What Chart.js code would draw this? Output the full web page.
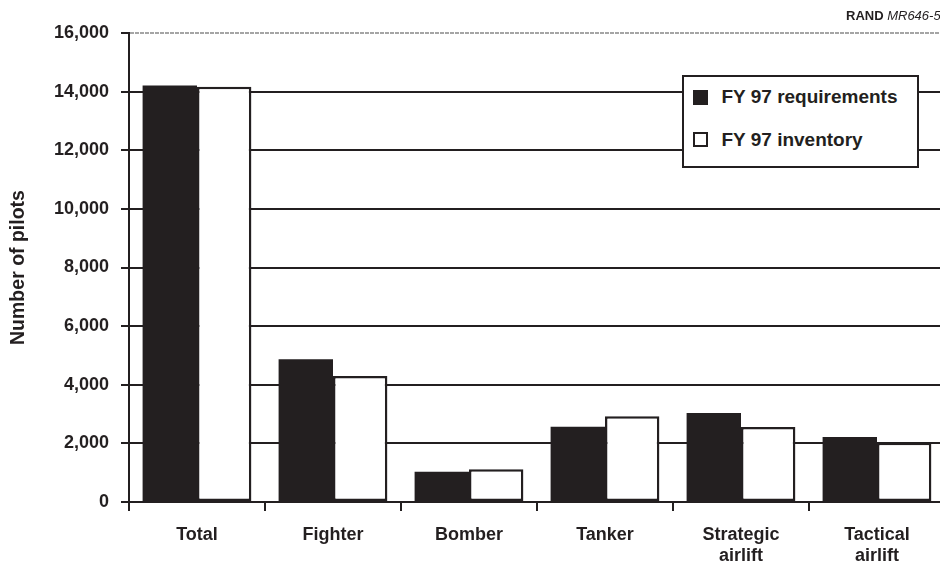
<!DOCTYPE html>
<html>
<head>
<meta charset="utf-8">
<script src="https://cdn.jsdelivr.net/npm/chart.js@4/dist/chart.umd.min.js"></script>
<style>
  html, body { margin: 0; padding: 0; background: #fff; }
  #wrap { position: relative; width: 940px; height: 564px; overflow: hidden; }
  #c { position: absolute; left: 0; top: 0; }
  #rand { position: absolute; left: 846px; top: 8px; font: bold 13px "Liberation Sans", Arial, sans-serif; color: #231f20; white-space: nowrap; }
  #rand i { font-weight: normal; }
  #legend { position: absolute; left: 682px; top: 75px; width: 233px; height: 89px; border: 2.5px solid #231f20; background: #fff;
            font: bold 19px "Liberation Sans", Arial, sans-serif; color: #231f20; }
  #legend .item { position: absolute; left: 8.5px; height: 22px; display: flex; align-items: center; white-space: nowrap; }
  #legend .sw { width: 15px; height: 15px; box-sizing: border-box; margin-right: 14px; }
</style>
</head>
<body>
<div id="wrap">
  <canvas id="c" width="950" height="564"></canvas>
  <div id="rand">RAND <i>MR646-5</i></div>
  <div id="legend"></div>
</div>
<script>
// Pilot requirements vs. inventory by aircraft category, FY 97
const categories = ['Total', 'Fighter', 'Bomber', 'Tanker', ['Strategic', 'airlift'], ['Tactical', 'airlift']];
const requirements = [14210, 4870, 1035, 2570, 3035, 2215];
const inventory = [14170, 4300, 1115, 2925, 2560, 2025];
const yTickValues = [0, 2000, 4000, 6000, 8000, 10000, 12000, 14000, 16000];
const seriesNames = ['FY 97 requirements', 'FY 97 inventory'];

const INK = '#231f20';
const FAMILY = '"Liberation Sans", Arial, Helvetica, sans-serif';
const TOP_VALUE = yTickValues[yTickValues.length - 1];

const chart = new Chart(document.getElementById('c'), {
  type: 'bar',
  data: {
    labels: categories,
    datasets: [
      { label: seriesNames[0], data: requirements, backgroundColor: INK, borderColor: INK, borderWidth: 0 },
      { label: seriesNames[1], data: inventory, backgroundColor: '#ffffff', borderColor: INK, borderWidth: 2.5, borderSkipped: false }
    ]
  },
  options: {
    responsive: false,
    animation: false,
    layout: { padding: { left: 0, top: 33, right: 5, bottom: 0 } },
    datasets: { bar: { categoryPercentage: 0.8, barPercentage: 1.0 } },
    plugins: { legend: { display: false }, tooltip: { enabled: false } },
    scales: {
      x: {
        grid: { offset: true, drawOnChartArea: false, color: INK, lineWidth: 2, tickLength: 9 },
        border: { color: INK, width: 2 },
        ticks: {
          color: INK, padding: 14, maxRotation: 0, autoSkip: false,
          font: { family: FAMILY, size: 18, weight: 'bold', lineHeight: 1.15 }
        },
        afterFit(scale) { scale.height = 62; }
      },
      y: {
        min: 0,
        max: TOP_VALUE,
        afterBuildTicks(scale) { scale.ticks = yTickValues.map(v => ({ value: v })); },
        grid: {
          color: ctx => (ctx.tick && ctx.tick.value === TOP_VALUE) ? '#a5a5a5' : INK,
          lineWidth: 2,
          tickLength: 8,
          tickColor: INK,
          tickWidth: 2
        },
        border: {
          color: INK, width: 2,
          dash: ctx => (ctx.tick && ctx.tick.value === TOP_VALUE) ? [4, 1] : []
        },
        ticks: {
          color: INK, padding: 12,
          font: { family: FAMILY, size: 18, weight: 'bold' },
          callback: v => Number(v).toLocaleString('en-US')
        },
        title: {
          display: true, text: 'Number of pilots', color: INK,
          font: { family: FAMILY, size: 19.5, weight: 'bold' },
          padding: { top: 7.4, bottom: 0 }
        },
        afterFit(scale) { scale.width = 129; }
      }
    }
  }
});

// Boxed legend built from the chart's own datasets
const legend = document.getElementById('legend');
const itemTops = [9, 51.5];
chart.data.datasets.forEach((ds, i) => {
  const item = document.createElement('div');
  item.className = 'item';
  item.style.top = itemTops[i] + 'px';
  const sw = document.createElement('span');
  sw.className = 'sw';
  sw.style.background = ds.backgroundColor;
  sw.style.border = '2px solid ' + ds.borderColor;
  const txt = document.createElement('span');
  txt.textContent = ds.label;
  item.appendChild(sw);
  item.appendChild(txt);
  legend.appendChild(item);
});
</script>
</body>
</html>
